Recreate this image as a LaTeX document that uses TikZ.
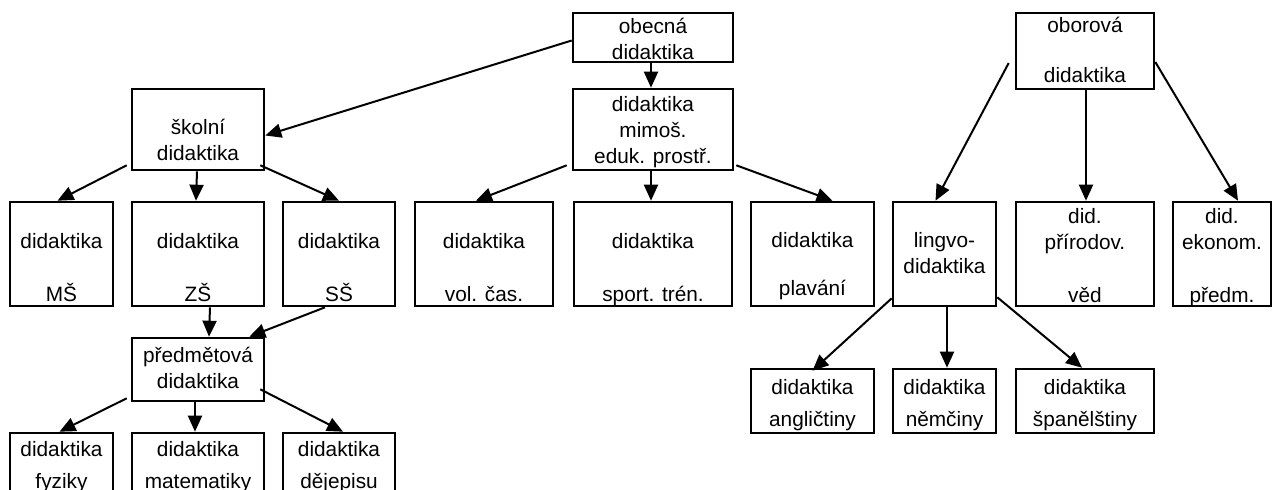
\documentclass[tikz,border=0pt]{standalone}
\usepackage{fontspec}
\setmainfont{Liberation Sans}
\usetikzlibrary{arrows.meta}

\tikzset{
    kasten/.style={draw, line width=2.6pt, inner sep=0pt, rectangle},
    beschr/.style={anchor=base, align=center, inner sep=0pt, font=\fontsize{20.8}{26}\selectfont},
    pfeil/.style={-{Triangle[length=16pt,width=14pt]}, line width=2pt},
}

\begin{document}
\begin{tikzpicture}[x=1pt, y=-1pt] % Pixelraster, y nach unten

    \useasboundingbox (0,0) rectangle (1272,490);
    \clip (0,0) rectangle (1272,490);

    % Kästen oben
    \node[kasten, minimum width=160pt, minimum height=49pt] (obecna) at (653,37.5) {};
    \node[kasten, minimum width=138pt, minimum height=76pt] (oborova) at (1085,51) {};
    \node[kasten, minimum width=132pt, minimum height=81pt] (skolni) at (198,129.5) {};
    \node[kasten, minimum width=160pt, minimum height=81pt] (mimos) at (653,129.5) {};

    % mittlere Reihe
    \foreach \n/\x/\w in {ms/61.5/103, zs/198/132, ss/339/112, volcas/484/138, sport/653/158,
        plavani/812.5/123, lingvo/944.5/103, prirodov/1085/138, ekonom/1222/98} {
        \node[kasten, minimum width=\w pt, minimum height=104pt] (\n) at (\x,254) {};
    }

    % untere Kästen
    \node[kasten, minimum width=132pt, minimum height=63pt] (predmetova) at (198,369.5) {};
    \foreach \n/\x/\w in {fyziky/61.5/103, matematiky/198/132, dejepisu/339/112} {
        \node[kasten, minimum width=\w pt, minimum height=87pt] (\n) at (\x,476.5) {};
    }
    \foreach \n/\x/\w in {anglictiny/812.5/123, nemciny/944.5/103, spanelstiny/1085/138} {
        \node[kasten, minimum width=\w pt, minimum height=64pt] (\n) at (\x,401) {};
    }

    % Beschriftungen (Grundlinie der letzten Zeile)
    \node[beschr] (obecna-t) at (653,59) {obecná\\didaktika};
    \node[beschr] (oborova-t) at (1085,82) {oborová\\[24pt]didaktika};
    \node[beschr] (skolni-t) at (198,160) {školní\\didaktika};
    \node[beschr] (mimos-t) at (653,163) {didaktika\\mimoš.\\eduk. prostř.};
    \node[beschr] (ms-t) at (61.5,301) {didaktika\\[27pt]MŠ};
    \node[beschr] (zs-t) at (198,301) {didaktika\\[27pt]ZŠ};
    \node[beschr] (ss-t) at (339,301) {didaktika\\[27pt]SŠ};
    \node[beschr] (volcas-t) at (484,301) {didaktika\\[27pt]vol. čas.};
    \node[beschr] (sport-t) at (653,301) {didaktika\\[27pt]sport. trén.};
    \node[beschr] (plavani-t) at (812.5,295) {didaktika\\[22pt]plavání};
    \node[beschr] (lingvo-t) at (944.5,273) {lingvo-\\didaktika};
    \node[beschr] (prirodov-t) at (1085,302) {did.\\přírodov.\\[27pt]věd};
    \node[beschr] (ekonom-t) at (1222,302) {did.\\ekonom.\\[27pt]předm.};
    \node[beschr] (predmetova-t) at (198,388) {předmětová\\didaktika};
    \node[beschr] (fyziky-t) at (61.5,488) {didaktika\\[6pt]fyziky};
    \node[beschr] (matematiky-t) at (198,488) {didaktika\\[6pt]matematiky};
    \node[beschr] (dejepisu-t) at (339,488) {didaktika\\[6pt]dějepisu};
    \node[beschr] (anglictiny-t) at (812.5,426) {didaktika\\[6pt]angličtiny};
    \node[beschr] (nemciny-t) at (944.5,426) {didaktika\\[6pt]němčiny};
    \node[beschr] (spanelstiny-t) at (1085,426) {didaktika\\[6pt]španělštiny};

    % Pfeile
    \draw[pfeil] ([yshift=-3pt]obecna.west) -- ([yshift=-6pt]skolni.east);
    \draw[pfeil] ([xshift=-2pt]obecna.south) -- ([xshift=-2pt]mimos.north);
    \draw[pfeil] ([xshift=-4pt,yshift=6pt]skolni.south west) -- ([xshift=-4pt]ms.north);
    \draw[pfeil] ([xshift=-1pt]skolni.south) -- ([xshift=-2pt]zs.north);
    \draw[pfeil] ([xshift=-5pt,yshift=6pt]skolni.south east) -- (ss.north);
    \draw[pfeil] ([xshift=-5pt,yshift=6pt]mimos.south west) -- ([xshift=-8pt]volcas.north);
    \draw[pfeil] ([xshift=-2pt]mimos.south) -- ([xshift=-2pt]sport.north);
    \draw[pfeil] ([xshift=2pt,yshift=6pt]mimos.south east) -- ([xshift=20pt]plavani.north);
    \draw[pfeil] ([xshift=-6pt,yshift=-12pt]oborova.west) -- ([xshift=-9pt]lingvo.north);
    \draw[pfeil] ([xshift=1pt]oborova.south) -- ([xshift=1pt]prirodov.north);
    \draw[pfeil] ([yshift=-11pt]oborova.east) -- ([xshift=16pt]ekonom.north);
    \draw[pfeil] ([xshift=12pt]zs.south) -- ([xshift=11pt]predmetova.north);
    \draw[pfeil] ([xshift=-14pt]ss.south) -- ([xshift=-16pt]predmetova.north east);
    \draw[pfeil] ([xshift=-4pt,yshift=4pt]predmetova.south west) -- ([xshift=-2pt]fyziky.north);
    \draw[pfeil] ([xshift=-3pt]predmetova.south) -- ([xshift=-3pt]matematiky.north);
    \draw[pfeil] ([xshift=-5pt,yshift=13pt]predmetova.south east) -- ([xshift=4pt]dejepisu.north);
    \draw[pfeil] ([yshift=9pt]lingvo.south west) -- ([yshift=-3pt]anglictiny.north);
    \draw[pfeil] ([xshift=2.5pt]lingvo.south) -- ([xshift=2.5pt]nemciny.north);
    \draw[pfeil] ([yshift=10pt]lingvo.south east) -- ([xshift=-3pt]spanelstiny.north);

\end{tikzpicture}
\end{document}
